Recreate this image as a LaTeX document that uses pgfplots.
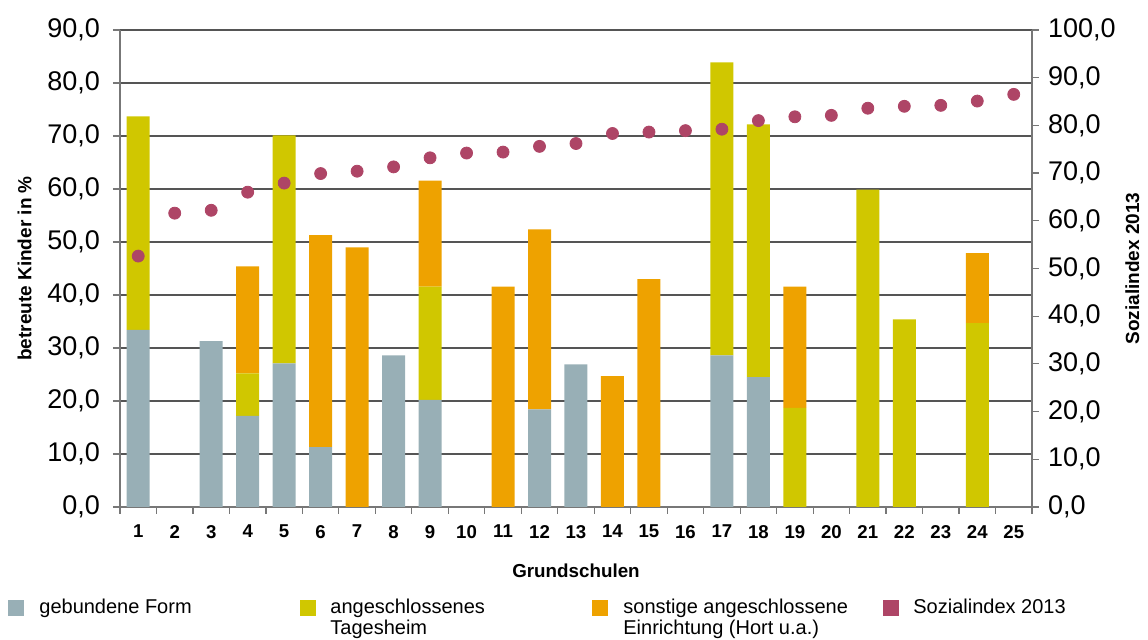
\documentclass[border=0pt]{standalone}
\usepackage{pgfplots}
\pgfplotsset{compat=1.18}
\usepackage{fontspec}
\setmainfont{Liberation Sans}

\definecolor{cgeb}{HTML}{98AFB6}
\definecolor{ctag}{HTML}{D0C700}
\definecolor{csons}{HTML}{EEA200}
\definecolor{csoz}{HTML}{AE4566}
\definecolor{axgray}{HTML}{777777}
\definecolor{grgray}{HTML}{555555}

% Grundschule, gebundene Form, angeschl. Tagesheim, sonstige Einrichtung
\pgfplotstableread{
x geb tag sons
1 33.4 40.3 0
2 0 0 0
3 31.3 0 0
4 17.2 8.0 20.2
5 27.1 43.0 0
6 11.3 0 40.0
7 0 0 49.0
8 28.6 0 0
9 20.2 21.4 20.0
10 0 0 0
11 0 0 41.6
12 18.4 0 34.0
13 26.9 0 0
14 0 0 24.7
15 0 0 43.0
16 0 0 0
17 28.6 55.3 0
18 24.5 47.7 0
19 0 18.7 22.9
20 0 0 0
21 0 59.9 0
22 0 35.4 0
23 0 0 0
24 0 34.7 13.2
25 0 0 0
}\betreuung

\pgfplotstableread{
x soz
1 52.6
2 61.6
3 62.2
4 66.0
5 67.9
6 69.9
7 70.4
8 71.3
9 73.2
10 74.2
11 74.4
12 75.6
13 76.2
14 78.3
15 78.6
16 78.9
17 79.2
18 81.0
19 81.8
20 82.1
21 83.6
22 84.0
23 84.2
24 85.1
25 86.5
}\sozial

\begin{document}
\begin{tikzpicture}
\useasboundingbox (-60pt,-66.5pt) rectangle (514pt,253.5pt);
\pgfplotsset{
  base/.style={
    at={(0,0)}, anchor=south west,
    scale only axis, width=456pt, height=238.5pt,
    xmin=0.5, xmax=25.5,
    tick align=outside,
    major tick length=3.5pt, minor tick length=3.5pt,
    axis line style={axgray, line width=0.6pt},
    every tick/.style={axgray, line width=0.6pt},
    yticklabel={\pgfmathprintnumber[fixed, fixed zerofill, precision=1, use comma, assume math mode=true]{\tick}},
  },
}
\begin{axis}[base,
  ymin=0, ymax=90, ytick={0,10,...,90},
  axis y line*=left, axis x line*=bottom,
  xtick={1,...,25}, minor xtick={0.5,1.5,...,25.5},
  xticklabels={1,2,3,4,5,6,7,8,9,10,11,12,13,14,15,16,17,18,19,20,21,22,23,24,25},
  major x tick style={draw=none},
  xticklabel style={font=\fontsize{9.3}{10}\selectfont\bfseries, yshift=-2pt},
  yticklabel style={font=\fontsize{13.5}{15}\selectfont, xshift=-3pt},
  ymajorgrids, grid style={grgray, line width=0.6pt},
  ylabel={betreute Kinder in \%},
  ylabel style={font=\fontsize{9.5}{11}\selectfont\bfseries, yshift=1pt},
  xlabel={Grundschulen},
  xlabel style={font=\fontsize{9.4}{11}\selectfont\bfseries, yshift=-6pt},
  ybar stacked, bar width=11.5pt,
  clip=false,
]
\addplot[fill=cgeb, draw=none] table[x=x, y=geb] {\betreuung};
\addplot[fill=ctag, draw=none] table[x=x, y=tag] {\betreuung};
\addplot[fill=csons, draw=none] table[x=x, y=sons] {\betreuung};
\end{axis}
\begin{axis}[base,
  ymin=0, ymax=100, ytick={0,10,...,100},
  axis y line*=right, axis x line=none,
  yticklabel style={font=\fontsize{13.5}{15}\selectfont, xshift=1pt},
  ylabel={Sozialindex 2013},
  ylabel style={font=\fontsize{9.5}{11}\selectfont\bfseries, yshift=2pt},
]
\addplot[only marks, color=csoz, mark=*, mark size=3pt, mark options={fill=csoz, draw=csoz}] table[x=x, y=soz] {\sozial};
\end{axis}
% legend
\begin{scope}[every node/.style={font=\fontsize{10}{12.5}\selectfont, anchor=base west, inner sep=0pt, align=left}]
\fill[cgeb] (-56pt,-54.5pt) rectangle ++(8pt,8pt);
\node at (-40.5pt,-53.5pt) {gebundene Form};
\fill[ctag] (90pt,-54.5pt) rectangle ++(8pt,8pt);
\node at (105pt,-53.5pt) {angeschlossenes};
\node at (105pt,-63.8pt) {Tagesheim};
\fill[csons] (236pt,-54.5pt) rectangle ++(8pt,8pt);
\node at (251.5pt,-53.5pt) {sonstige angeschlossene};
\node at (251.5pt,-63.8pt) {Einrichtung (Hort u.a.)};
\fill[csoz] (381.5pt,-54.5pt) rectangle ++(8pt,8pt);
\node at (396.5pt,-53.5pt) {Sozialindex 2013};
\end{scope}
\end{tikzpicture}
\end{document}
